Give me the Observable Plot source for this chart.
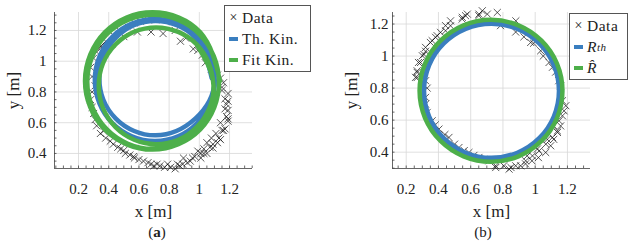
<!DOCTYPE html>
<html>
<head>
<meta charset="utf-8">
<script src="https://cdn.jsdelivr.net/npm/d3@7"></script>
<script src="https://cdn.jsdelivr.net/npm/@observablehq/plot@0.6"></script>
<style>
  html, body { margin: 0; padding: 0; background: #fff; }
  #root { position: relative; width: 635px; height: 248px; overflow: hidden; font-family: "Liberation Serif", serif; color: #222; }
  .panel { position: absolute; top: 0; }
  .legend { position: absolute; background: #fff; border: 1px solid #555; font-size: 15.5px; line-height: 21px; padding: 1px 4px 1px 3px; box-sizing: border-box; letter-spacing: 0.5px; }
  .legend .row { display: flex; align-items: center; white-space: nowrap; }
  .legend .sym { display: inline-block; width: 11px; text-align: center; margin-right: 3px; font-size: 14px; letter-spacing: 0; }
  .legend .sw { display: inline-block; width: 9px; height: 4px; margin: 0 4px 0 1px; }
  .cap { position: absolute; top: 224px; font-size: 15px; text-align: center; width: 40px; }
</style>
</head>
<body>
<div id="root"></div>
<script>
// ---------- data ----------
const xTicks = [0.2, 0.4, 0.6, 0.8, 1.0, 1.2];
const xTickLabels = ["0.2", "0.4", "0.6", "0.8", "1", "1.2"];
const yTicks = [0.4, 0.6, 0.8, 1.0, 1.2];
const yTickLabels = ["0.4", "0.6", "0.8", "1", "1.2"];
const minorX = [0.05,0.1,0.15,0.2,0.25,0.3,0.35,0.4,0.45,0.5,0.55,0.6,0.65,0.7,0.75,0.8,0.85,0.9,0.95,1.0,1.05,1.1,1.15,1.2,1.25,1.3,1.35];
const minorY = [0.3,0.35,0.4,0.45,0.5,0.55,0.6,0.65,0.7,0.75,0.8,0.85,0.9,0.95,1.0,1.05,1.1,1.15,1.2,1.25,1.3];

// Panel (a)
const dataA = [
  [0.30,1.02],[0.32,1.06],[0.35,1.10],[0.38,1.13],[0.43,1.17],[0.47,1.20],[0.52,1.23],[0.57,1.25],[0.61,1.26],[0.66,1.27],[0.71,1.27],
  [0.84,1.20],[0.76,1.18],[0.68,1.19],[0.59,1.19],[0.50,1.16],[0.42,1.11],[0.37,1.05],[0.35,1.09],[0.91,1.15],[0.875,1.13],
  [0.96,1.08],[0.99,1.07],[1.02,1.04],[1.04,0.99],[1.08,0.95],[1.12,0.91],[1.14,0.89],[1.15,0.83],[1.16,0.86],
  [0.33,0.94],[0.325,0.86],[0.31,0.84],[0.29,0.90],[0.28,0.96],[0.29,0.80],[0.28,0.75],[0.29,0.70],[0.30,0.66],[0.31,0.62],
  [0.32,0.58],[0.345,0.53],[0.366,0.546],[0.38,0.50],[0.41,0.48],[0.43,0.46],[0.46,0.44],[0.48,0.43],[0.50,0.42],[0.51,0.40],
  [0.54,0.39],[0.565,0.38],[0.57,0.37],[0.60,0.36],[0.63,0.35],[0.66,0.34],[0.68,0.33],[0.70,0.32],[0.72,0.33],[0.74,0.32],
  [0.77,0.31],[0.79,0.33],[0.81,0.31],[0.84,0.30],[0.855,0.33],[0.87,0.32],[0.895,0.37],[0.89,0.33],[0.92,0.34],[0.94,0.35],
  [0.955,0.37],[0.99,0.415],[0.97,0.38],[1.01,0.37],[1.01,0.40],[1.03,0.40],[1.03,0.43],[1.05,0.40],[1.05,0.47],[1.07,0.44],
  [1.09,0.435],[1.09,0.46],[1.08,0.50],[1.11,0.53],[1.12,0.47],[1.13,0.50],[1.14,0.49],[1.14,0.60],[1.15,0.55],[1.16,0.55],
  [1.17,0.56],[1.17,0.69],[1.18,0.64],[1.19,0.61],[1.19,0.625],[1.19,0.68],[1.17,0.755],[1.19,0.74],[1.19,0.79],[1.15,0.81],[1.18,0.72]
];
const thKinA = [
  [1.082,0.89],[0.973,1.153],[0.71,1.262],[0.447,1.153],[0.338,0.89],[0.447,0.627],[0.71,0.518],[0.973,0.627],
  [1.102,0.878],[0.986,1.159],[0.705,1.275],[0.424,1.159],[0.308,0.878],[0.424,0.597],[0.705,0.481],[0.986,0.597],
  [1.102,0.878],[0.986,1.159]
];
const fitKinA = [
  [1.137,0.872],[1.006,1.188],[0.69,1.319],[0.374,1.188],[0.243,0.872],[0.374,0.556],[0.69,0.425],[1.006,0.556],
  [1.13,0.866],[1.002,1.174],[0.694,1.302],[0.386,1.174],[0.258,0.866],[0.386,0.558],[0.694,0.43],[1.002,0.558],
  [1.094,0.84],[0.983,1.109],[0.714,1.22],[0.445,1.109],[0.334,0.84],[0.445,0.571],[0.714,0.46],[0.983,0.571],
  [1.094,0.84],[0.983,1.109]
];

// Panel (b)
const dataB = [
  [0.258,0.867],[0.268,0.898],[0.268,0.866],[0.268,0.908],[0.276,0.96],[0.289,0.96],[0.30,1.002],[0.31,1.01],[0.32,1.054],[0.32,1.03],
  [0.35,1.085],[0.361,1.096],[0.382,1.117],[0.392,1.127],[0.413,1.148],[0.444,1.158],[0.444,1.19],[0.475,1.189],[0.475,1.22],[0.547,1.231],
  [0.548,1.242],[0.568,1.252],[0.579,1.262],[0.65,1.252],[0.651,1.262],[0.672,1.283],[0.703,1.262],[0.765,1.272],[0.785,1.19],[0.88,1.22],
  [0.879,1.15],[0.93,1.12],[0.972,1.085],[0.99,1.08],[1.034,1.033],[1.05,1.0],[1.086,0.96],[1.107,0.93],[1.127,0.90],[1.146,0.846],
  [1.158,0.815],[1.169,0.721],[1.179,0.658],[1.19,0.69],[1.169,0.627],[1.158,0.564],[1.148,0.596],[1.138,0.533],[1.138,0.523],[1.115,0.48],
  [1.115,0.564],[1.107,0.492],[1.096,0.44],[1.075,0.48],[1.066,0.45],[1.065,0.398],[1.024,0.408],[1.02,0.366],[1.014,0.42],[0.983,0.377],
  [0.98,0.346],[0.95,0.377],[0.941,0.346],[0.94,0.327],[0.91,0.315],[0.879,0.315],[0.85,0.304],[0.838,0.294],[0.805,0.315],[0.755,0.304],
  [0.755,0.315],[0.713,0.346],[0.68,0.355],[0.651,0.367],[0.62,0.38],[0.589,0.398],[0.56,0.41],[0.527,0.429],[0.50,0.45],[0.465,0.492],
  [0.44,0.51],[0.403,0.544],[0.38,0.57],[0.361,0.596],[0.33,0.648],[0.32,0.70],[0.32,0.742],[0.32,0.846],[0.33,0.80]
];
const rThB = [
  [1.149,0.783],[1.117,0.944],[1.026,1.080],[0.890,1.171],[0.729,1.203],[0.568,1.171],[0.432,1.080],[0.341,0.944],
  [0.309,0.783],[0.341,0.622],[0.432,0.486],[0.568,0.395],[0.729,0.363],[0.890,0.395],[1.026,0.486],[1.117,0.622]
];
const rHatB = [
  [1.169,0.783],[1.135,0.953],[1.039,1.096],[0.896,1.192],[0.726,1.226],[0.556,1.192],[0.413,1.096],[0.317,0.953],
  [0.283,0.783],[0.317,0.613],[0.413,0.470],[0.556,0.374],[0.726,0.340],[0.896,0.374],[1.039,0.470],[1.135,0.613]
];

const BLUE = "#3a7ebf", GREEN = "#4daf4a";
const FONT = "'Liberation Serif', serif";

function panel({data, blue, green, width, height, mL, mR, mT, mB, xDom, yDom, yPad, blueCurve, greenCurve, blueW}) {
  const xy = {x: d => d[0], y: d => d[1]};
  return Plot.plot({
    width, height,
    marginLeft: mL, marginRight: mR, marginTop: mT, marginBottom: mB,
    x: {domain: xDom, label: null},
    y: {domain: yDom, label: null},
    style: {fontFamily: FONT, fontSize: "15px", color: "#222", background: "transparent", overflow: "visible"},
    marks: [
      Plot.gridX(xTicks, {stroke: "#d8d8d8", strokeOpacity: 1, strokeWidth: 0.8}),
      Plot.gridY(yTicks, {stroke: "#d8d8d8", strokeOpacity: 1, strokeWidth: 0.8}),
      Plot.ruleY([yDom[0]], {stroke: "#555", strokeWidth: 0.9}),
      Plot.ruleX([xDom[0]], {stroke: "#555", strokeWidth: 0.9}),
      Plot.ruleX(minorX.filter(v => v > xDom[0] && v < xDom[1]), {x: d => d, y1: yDom[0], y2: yDom[0], insetBottom: 2.5, stroke: "#444", strokeWidth: 0.8}),
      Plot.ruleY(minorY.filter(v => v > yDom[0] && v < yDom[1]), {y: d => d, x1: xDom[0], x2: xDom[0], insetRight: -2.5, stroke: "#444", strokeWidth: 0.8}),
      Plot.axisX(xTicks, {tickSize: 0, tickPadding: 15, tickFormat: d => xTickLabels[xTicks.indexOf(d)], label: null, fontFamily: FONT, fontSize: 15}),
      Plot.axisY(yTicks, {tickSize: 0, tickPadding: yPad, tickFormat: d => yTickLabels[yTicks.indexOf(d)], label: null, fontFamily: FONT, fontSize: 15}),
      Plot.text(["x [m]"], {frameAnchor: "bottom", lineAnchor: "middle", dy: 43, fontSize: 17, fontFamily: FONT, fill: "#222"}),
      Plot.text(["y [m]"], {frameAnchor: "left", lineAnchor: "middle", textAnchor: "middle", dx: -41, rotate: -90, fontSize: 17, fontFamily: FONT, fill: "#222"}),
      Plot.dot(data, {...xy, symbol: "times", r: 3.3, stroke: "#111", strokeWidth: 0.7}),
      Plot.line(blue, {...xy, curve: blueCurve, stroke: BLUE, strokeWidth: blueW}),
      Plot.line(green, {...xy, curve: greenCurve, stroke: GREEN, strokeWidth: 4.5})
    ]
  });
}

const root = document.getElementById("root");

const pa = document.createElement("div");
pa.className = "panel"; pa.style.left = "0px";
pa.appendChild(panel({data: dataA, blue: thKinA, green: fitKinA, width: 315, height: 222,
  mL: 54, mR: 63, mT: 12, mB: 54, xDom: [0.041, 1.352], yDom: [0.302, 1.317], yPad: 8,
  blueCurve: "natural", greenCurve: "natural", blueW: 4.5}));
root.appendChild(pa);

const pb = document.createElement("div");
pb.className = "panel"; pb.style.left = "315px";
pb.appendChild(panel({data: dataB, blue: rThB, green: rHatB, width: 320, height: 222,
  mL: 77, mR: 45, mT: 12, mB: 54, xDom: [0.115, 1.343], yDom: [0.298, 1.272], yPad: 4,
  blueCurve: "catmull-rom-closed", greenCurve: "catmull-rom-closed", blueW: 5}));
root.appendChild(pb);

// legends
function legend(left, top, w, h, rows) {
  const L = document.createElement("div");
  L.className = "legend";
  Object.assign(L.style, {left: left + "px", top: top + "px", width: w + "px", height: h + "px"});
  L.innerHTML = rows.join("");
  root.appendChild(L);
}
legend(224, 5, 87, 67, [
  '<div class="row"><span class="sym">×</span>Data</div>',
  '<div class="row"><span class="sw" style="background:' + BLUE + '"></span>Th. Kin.</div>',
  '<div class="row"><span class="sw" style="background:' + GREEN + '"></span>Fit Kin.</div>'
]);
legend(569, 13, 59, 67, [
  '<div class="row"><span class="sym">×</span>Data</div>',
  '<div class="row"><span class="sw" style="background:' + BLUE + '"></span><i>R</i><sub style="font-size:11px;font-style:italic;position:relative;top:1px">th</sub></div>',
  '<div class="row"><span class="sw" style="background:' + GREEN + '"></span><i>R&#770;</i></div>'
]);

// captions
const ca = document.createElement("div");
ca.className = "cap"; ca.style.left = "137px"; ca.innerHTML = "(<b>a</b>)";
root.appendChild(ca);
const cb = document.createElement("div");
cb.className = "cap"; cb.style.left = "463px"; cb.innerHTML = "(b)";
root.appendChild(cb);
</script>
</body>
</html>
